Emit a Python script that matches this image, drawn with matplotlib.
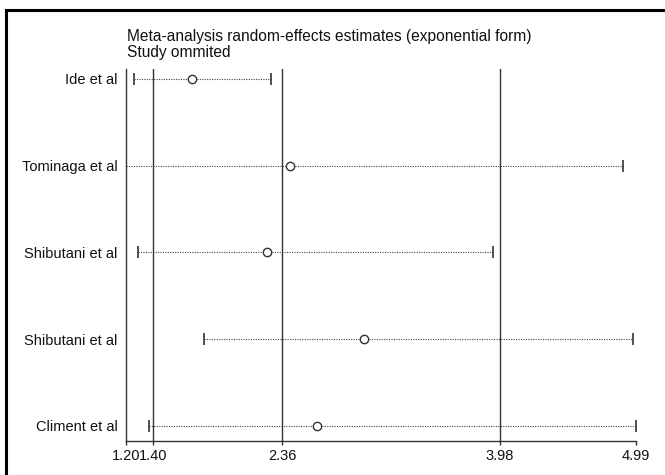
import matplotlib
matplotlib.use('Agg')
import matplotlib.pyplot as plt
from matplotlib.lines import Line2D

plt.rcParams['font.family'] = ['Liberation Sans Narrow', 'Liberation Sans', 'DejaVu Sans']

# study omitted, lower CI, estimate, upper CI
studies = ['Ide et al', 'Tominaga et al', 'Shibutani et al', 'Shibutani et al', 'Climent et al']
lower = [1.26, 1.20, 1.29, 1.78, 1.37]
estimate = [1.69, 2.42, 2.25, 2.97, 2.62]
upper = [2.28, 4.89, 3.93, 4.97, 4.99]

# overall estimate with its confidence interval
ref_lines = [1.40, 2.36, 3.98]
tick_vals = [1.20, 1.40, 2.36, 3.98, 4.99]
tick_labels = ['1.20', '1.40', '2.36', '3.98', '4.99']

fig = plt.figure(figsize=(6.65, 4.75), dpi=100)
ax = fig.add_axes([126 / 665, 1 - 441 / 475, 510 / 665, 372 / 475])

n = len(studies)
ypos = [n - i for i in range(n)]

for x in ref_lines:
    ax.axvline(x, color='#333333', lw=1.0, zorder=1)

for y, lo, est, hi in zip(ypos, lower, estimate, upper):
    ax.plot([lo, est], [y, y], color='#444444', lw=0.8, ls=(0, (1, 1.2)), zorder=2)
    ax.plot([est, hi], [y, y], color='#444444', lw=0.8, ls=(0, (1, 1.2)), zorder=2)
    ax.plot([lo, hi], [y, y], ls='none', marker='|', markersize=8, color='#333333',
            markeredgewidth=1.2, zorder=3)
    ax.plot(est, y, marker='o', markersize=6, mfc='white', mec='#333333', mew=1.0, zorder=4)

ax.set_xlim(1.20, 4.99)
ax.set_ylim(0.827, 5.115)
ax.set_xticks(tick_vals)
ax.set_xticklabels(tick_labels, fontsize=10.5, color='#111111')
ax.set_yticks(ypos)
ax.set_yticklabels(studies, fontsize=10.5, color='#111111')
ax.tick_params(axis='x', length=3, width=1, pad=3, color='#333333')
ax.tick_params(axis='y', length=0, pad=6)
ax.spines['top'].set_visible(False)
ax.spines['right'].set_visible(False)
for s in ['left', 'bottom']:
    ax.spines[s].set_color('#333333')
    ax.spines[s].set_linewidth(1.0)

fig.text(127 / 665, 1 - 36 / 475, 'Meta-analysis random-effects estimates (exponential form)',
         fontsize=11.2, color='#111111', va='center')
fig.text(127 / 665, 1 - 53 / 475, 'Study ommited', fontsize=11.2, color='#111111', va='center')

# frame on left and top of the picture
fig.add_artist(Line2D([6 / 665, 6 / 665], [0, 1 - 10 / 475], color='black', lw=2.2,
                      transform=fig.transFigure))
fig.add_artist(Line2D([6 / 665, 1], [1 - 10 / 475, 1 - 10 / 475], color='black', lw=2.2,
                      transform=fig.transFigure))

fig.savefig('out.png', dpi=100)
